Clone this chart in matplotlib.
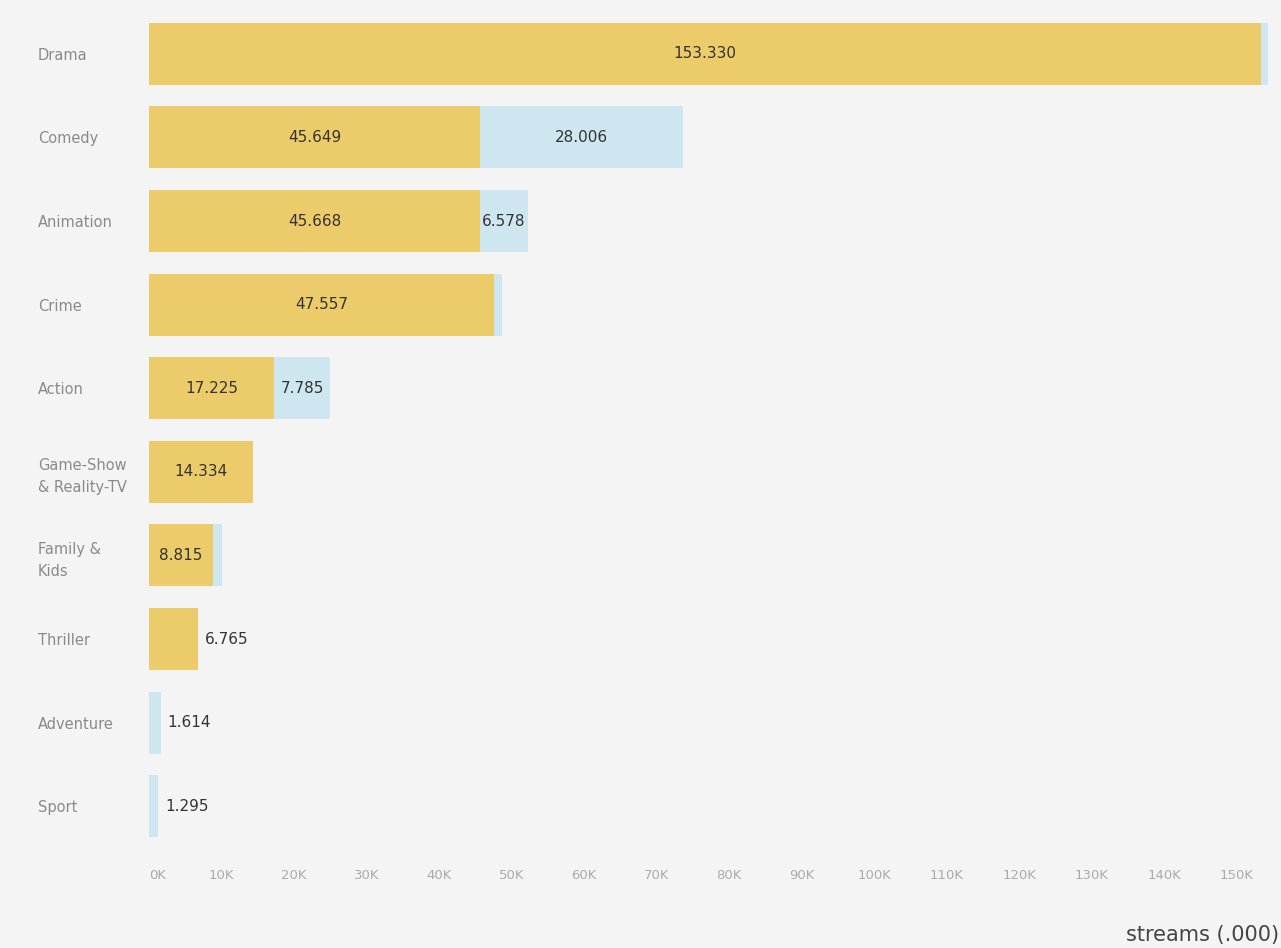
import matplotlib
matplotlib.use('Agg')
import matplotlib.pyplot as plt
import numpy as np


genres = ['Drama', 'Comedy', 'Animation', 'Crime', 'Action',
          'Game-Show\n& Reality-TV', 'Family &\nKids', 'Thriller',
          'Adventure', 'Sport']
# streams in thousands, two stacked groups
yellow = [153.330, 45.649, 45.668, 47.557, 17.225, 14.334, 8.815, 6.765, 0.0, 0.0]
blue = [1.0, 28.006, 6.578, 1.1, 7.785, 0.0, 1.3, 0.0, 1.614, 1.295]
ticks = np.arange(0, 151, 10)
tick_labels = ['%dK' % t for t in ticks]

YEL = '#ECCB6A'
BLU = '#CDE6EF'
BG = '#F4F4F4'

W, H = 1281, 948
fig = plt.figure(figsize=(W / 100, H / 100), dpi=100, facecolor=BG)
ax = fig.add_axes([149 / W, 1 - 848 / H, (W - 149) / W, (848 - 12) / H])
ax.set_facecolor(BG)

y = np.arange(len(genres))
yel = np.array(yellow)
blu = np.array(blue)
ax.barh(y, yel, height=0.74, color=YEL)
ax.barh(y, blu, left=yel, height=0.74, color=BLU)

ax.set_xlim(0, 156.1)
ax.set_ylim(len(genres) - 0.5, -0.5)


def fmt(v):
    return ('%.3f' % v)


# value labels: inside when wide enough, outside for a lone narrow segment
for i in range(len(genres)):
    segs = [(0.0, yel[i]), (yel[i], blu[i])]
    visible = [s for s in segs if s[1] > 0]
    for left, w in visible:
        if len(visible) == 1 and w < 8:
            ax.annotate(fmt(w), (left + w, i), xytext=(7, 0),
                        textcoords='offset pixels', ha='left', va='center',
                        fontsize=11, color='#333333')
        elif w >= 5:
            ax.text(left + w / 2, i, fmt(w), ha='center', va='center',
                    fontsize=11, color='#333333')

ax.set_yticks(y)
ax.set_yticklabels(genres, ha='left', fontsize=10.5, color='#8a8a8a',
                   linespacing=1.55)
ax.tick_params(axis='y', length=0, pad=80)

ax.set_xticks(ticks)
ax.set_xticklabels(tick_labels, fontsize=9.5, color='#ababab')
ax.get_xticklabels()[0].set_ha('left')
ax.tick_params(axis='x', length=0, pad=15)

for s in ax.spines.values():
    s.set_visible(False)

fig.text(1279 / W, 1 - 935 / H, 'streams (.000)', ha='right', va='center',
         fontsize=15, color='#444444', family='DejaVu Sans')

fig.savefig('out.png', dpi=100, facecolor=BG)
